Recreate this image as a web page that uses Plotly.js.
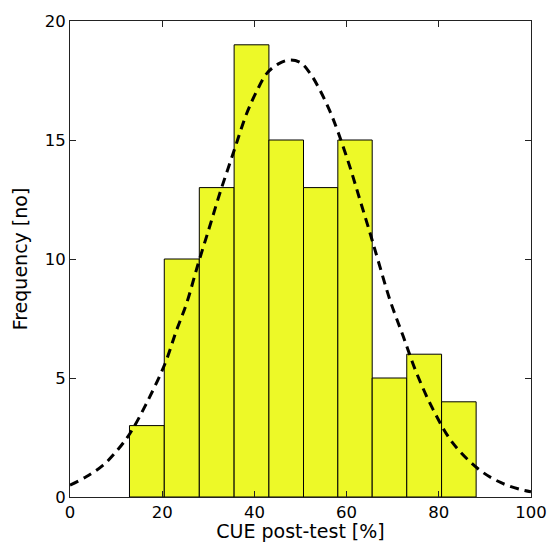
<!DOCTYPE html>
<html>
<head>
<meta charset="utf-8">
<script src="https://cdn.plot.ly/plotly-3.0.1.min.js"></script>
<style>html,body{margin:0;padding:0;background:#fff;}#chart{width:548px;height:542px;}</style>
</head>
<body>
<div id="chart"></div>
<script>
// Histogram bin edges (CUE post-test %) and counts
const binEdges = [12.9, 20.45, 28.05, 35.6, 43.15, 50.65, 58.1, 65.55, 73.05, 80.6, 88.1];
const counts = [3, 10, 13, 19, 15, 13, 15, 5, 6, 4];

// Fitted normal curve
const curveX = [0, 3.5, 7.2, 10.2, 13.0, 16.6, 20.6, 23.1, 25.3, 27.8, 30.2, 32.5, 35.4, 38.3, 40.5, 42.7, 45.2, 47.7, 50.0, 52.1, 54.2, 56.4, 58.2, 60.7, 62.9, 65.1, 66.8, 69.4, 72.3, 75.2, 78.8, 83.1, 88.9, 93.5, 97.6, 100];
const curveY = [0.5, 0.85, 1.34, 1.95, 2.67, 3.94, 5.6, 7.0, 8.14, 9.8, 11.3, 12.76, 14.44, 16.1, 17.05, 17.8, 18.2, 18.36, 18.25, 17.8, 17.1, 16.2, 15.3, 13.88, 12.48, 11.08, 9.96, 8.28, 6.74, 5.2, 3.66, 2.25, 1.13, 0.6, 0.32, 0.22];

const xTicks = [0, 20, 40, 60, 80, 100];
const yTicks = [0, 5, 10, 15, 20];

const centers = counts.map((_, i) => (binEdges[i] + binEdges[i + 1]) / 2);
const widths = counts.map((_, i) => binEdges[i + 1] - binEdges[i]);

const tickFont = {family: 'DejaVu Sans, sans-serif', size: 16.5, color: '#000'};
const titleFont = {family: 'DejaVu Sans, sans-serif', size: 19, color: '#000'};

const traces = [
  {
    type: 'bar', x: centers, y: counts, width: widths,
    marker: {color: '#edf928', line: {color: '#000', width: 1}},
    hoverinfo: 'x+y', showlegend: false
  },
  {
    type: 'scatter', mode: 'lines', x: curveX, y: curveY,
    line: {color: '#000', width: 3, dash: '9px,6px', shape: 'spline', smoothing: 1},
    showlegend: false
  }
];

const axisCommon = {
  showline: true, linecolor: '#222', linewidth: 1, mirror: 'ticks',
  ticks: 'inside', ticklen: 6, tickwidth: 1, tickcolor: '#222',
  showgrid: false, zeroline: false, tickfont: tickFont, automargin: false
};

const layout = {
  width: 548, height: 542,
  margin: {l: 70, r: 17, t: 21, b: 45},
  paper_bgcolor: '#fff', plot_bgcolor: '#fff',
  font: tickFont,
  bargap: 0,
  xaxis: Object.assign({}, axisCommon, {
    range: [0, 100], tickvals: xTicks, ticktext: xTicks.map(String),
    title: {text: 'CUE post-test [%]', font: titleFont, standoff: 5}
  }),
  yaxis: Object.assign({}, axisCommon, {
    range: [0, 20], tickvals: yTicks, ticktext: yTicks.map(String),
    ticklabelstandoff: 0,
    title: {text: 'Frequency [no]', font: titleFont, standoff: 12}
  })
};

Plotly.newPlot('chart', traces, layout, {staticPlot: true, displayModeBar: false});
</script>
</body>
</html>
